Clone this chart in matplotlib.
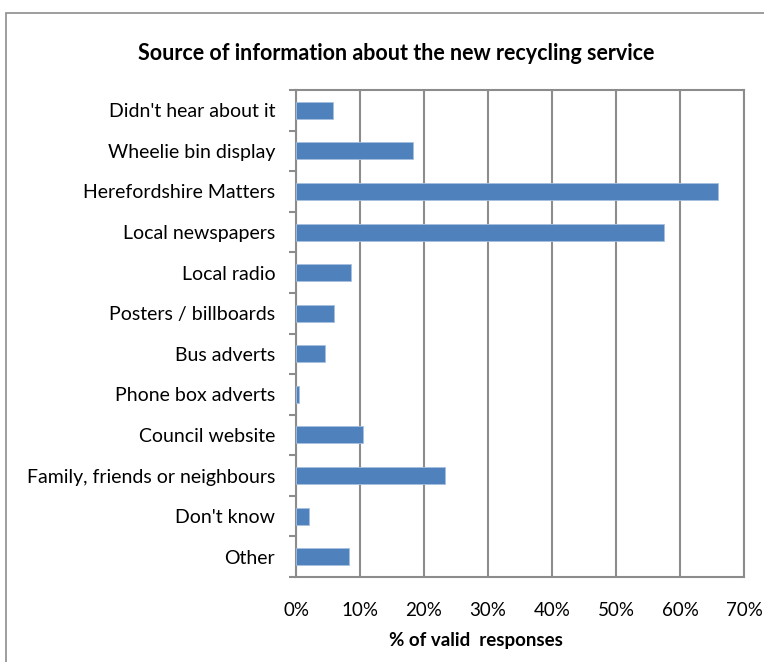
import numpy as np
import matplotlib.pyplot as plt
from matplotlib.patches import Rectangle
from matplotlib.ticker import FuncFormatter

categories = ["Didn't hear about it", "Wheelie bin display", "Herefordshire Matters",
              "Local newspapers", "Local radio", "Posters / billboards", "Bus adverts",
              "Phone box adverts", "Council website", "Family, friends or neighbours",
              "Don't know", "Other"]
percent = [5.8, 18.3, 66.0, 57.5, 8.6, 5.9, 4.6, 0.4, 10.4, 23.3, 2.1, 8.3]

plt.rcParams['font.family'] = ['Lato', 'DejaVu Sans']
grey = "#8c8c8c"

fig = plt.figure(figsize=(7.64, 6.62), dpi=100)
ax = fig.add_axes([296/764, 1-577/662, (744-296)/764, (577-90)/662])

# outer chart frame
fig.patches.append(Rectangle((6/764, -0.05), 1.5, 1-13/662+0.05, transform=fig.transFigure,
                             fill=False, edgecolor=grey, linewidth=1.2))

y = np.arange(len(categories))
ax.barh(y, percent, height=0.42, color="#4f81bd", edgecolor="#a7c0e0", linewidth=0.6, zorder=3)

ax.set_xlim(0, 70)
ax.set_ylim(len(categories)-0.5, -0.5)
ax.set_xticks(np.arange(0, 71, 10))
ax.xaxis.set_major_formatter(FuncFormatter(lambda v, p: f"{v:.0f}%"))
ax.grid(axis="x", color=grey, linewidth=1.5, zorder=0)

ax.set_yticks(y)
ax.set_yticklabels(categories)
ax.set_yticks(np.arange(len(categories)+1)-0.5, minor=True)
ax.tick_params(axis="y", which="major", length=0, pad=15, labelsize=14)
ax.tick_params(axis="y", which="minor", length=5, width=1.5, color=grey)
ax.tick_params(axis="x", length=0, pad=18, labelsize=13.5)

for s in ax.spines.values():
    s.set_color(grey)
    s.set_linewidth(1.5)

ax.set_xlabel("% of valid  responses", fontsize=13.5, fontweight="bold")
ax.xaxis.set_label_coords((476-296)/(744-296), -(632-577)/(577-90), transform=ax.transAxes)
fig.text(396/764, 1-53/662, "Source of information about the new recycling service",
         ha="center", va="center", fontsize=15.5, fontweight="bold")

fig.savefig("out.png", dpi=100)
